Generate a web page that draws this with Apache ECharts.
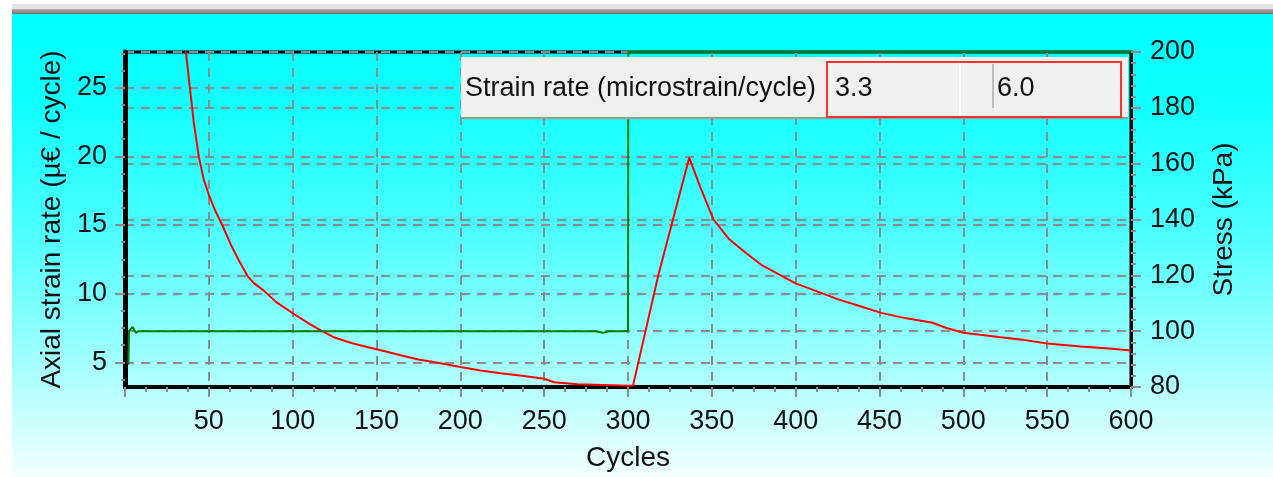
<!DOCTYPE html>
<html>
<head>
<meta charset="utf-8">
<script src="https://cdn.jsdelivr.net/npm/echarts@6/dist/echarts.min.js"></script>
<style>html,body{margin:0;padding:0;background:#fff}#c{width:1273px;height:477px}</style>
</head>
<body>
<div id="c"></div>
<script>
// ---- data ----
const strainCycles = [35.5, 38.5, 41, 44, 47, 50, 54, 58, 63, 68, 73, 77, 83, 90, 101, 110, 117, 125, 135, 145, 155, 165, 175, 185, 200, 212, 224, 238, 250, 256, 270, 285, 300, 303, 318, 336.5, 343, 348, 351, 360, 370, 379.5, 390, 400, 412, 425, 438, 451, 466, 481, 490, 500, 510, 521, 535, 550, 570, 587, 600];
const strainRate   = [28.5, 25.2, 22.5, 20.0, 18.3, 17.2, 16.0, 15.0, 13.6, 12.4, 11.3, 10.75, 10.2, 9.4, 8.5, 7.8, 7.3, 6.8, 6.4, 6.1, 5.8, 5.5, 5.2, 5.0, 4.65, 4.4, 4.2, 4.0, 3.8, 3.55, 3.4, 3.35, 3.3, 3.3, 11.3, 19.9, 17.8, 16.3, 15.4, 14.0, 13.0, 12.1, 11.4, 10.75, 10.2, 9.6, 9.1, 8.6, 8.2, 7.9, 7.5, 7.15, 7.0, 6.85, 6.65, 6.37, 6.15, 6.0, 5.85];
const stressCycles = [2, 2.4, 4.5, 6.5, 8, 28.5, 29, 29.5, 35.5, 36, 36.5, 41.5, 42, 42.5, 57.5, 58, 58.5, 128.5, 129, 129.5, 147.5, 148, 148.5, 254.5, 255, 255.5, 264.5, 265, 265.5, 280.5, 281, 281.5, 285, 285.5, 288.5, 289, 289.5, 300, 300.2, 600];
const stressVals   = [88, 100, 101.5, 99.4, 100, 100, 99.3, 100, 100, 99.3, 100, 100, 99.3, 100, 100, 99.3, 100, 100, 99.4, 100, 100, 99.4, 100, 100, 99.4, 100, 100, 99.4, 100, 100, 99.4, 100, 99.4, 100, 100, 99.4, 100, 100, 200, 200];
const leftTicks = [5, 10, 15, 20, 25];
const leftMinorTicks = [3.75, 6.25, 7.5, 8.75, 11.25, 12.5, 13.75, 16.25, 17.5, 18.75, 21.25, 22.5, 23.75, 26.25, 27.5];
const tableLabel = 'Strain rate (microstrain/cycle)';
const tableValues = ['3.3', '6.0'];

const FONT = 'Liberation Sans, Arial, sans-serif';
const chart = echarts.init(document.getElementById('c'), null, {renderer: 'canvas'});
const gridDash = {color: '#8c8c8c', width: 2, type: [9, 7]};
const tickStyle = {color: '#8c8c8c', width: 2};
const TZ = 200;

const option = {
  animation: false,
  backgroundColor: 'transparent',
  graphic: [
    {type: 'rect', z: -10, silent: true, shape: {x: 0, y: 0, width: 1273, height: 477}, style: {fill: '#ffffff'}},
    {type: 'rect', z: -9, silent: true, shape: {x: 12, y: 4, width: 1261, height: 6}, style: {fill: '#e4e4e4'}},
    {type: 'rect', z: -9, silent: true, shape: {x: 12, y: 9, width: 1261, height: 5},
      style: {fill: new echarts.graphic.LinearGradient(0, 0, 0, 1, [{offset: 0, color: '#b0b0b0'}, {offset: 1, color: '#707070'}])}},
    {type: 'rect', z: -9, silent: true, shape: {x: 12, y: 14, width: 1261, height: 463},
      style: {fill: new echarts.graphic.LinearGradient(0, 0, 0, 1, [
        {offset: 0, color: '#00ffff'}, {offset: 0.2, color: '#12ffff'}, {offset: 0.45, color: '#48ffff'},
        {offset: 0.66, color: '#85ffff'}, {offset: 0.8, color: '#b2ffff'}, {offset: 1, color: '#f4ffff'}])}},
    {type: 'rect', z: TZ, shape: {x: 461, y: 57, width: 667, height: 62}, style: {fill: '#f0f0f0'}},
    {type: 'line', z: TZ + 1, shape: {x1: 461, y1: 118, x2: 1128, y2: 118}, style: {stroke: '#9a9a9a', lineWidth: 2}},
    {type: 'line', z: TZ + 1, shape: {x1: 960, y1: 63, x2: 960, y2: 116}, style: {stroke: '#ffffff', lineWidth: 2}},
    {type: 'line', z: TZ + 1, shape: {x1: 993, y1: 64, x2: 993, y2: 108}, style: {stroke: '#888888', lineWidth: 1}},
    {type: 'rect', z: TZ + 2, shape: {x: 827, y: 62, width: 294, height: 55}, style: {fill: 'none', stroke: '#ff3030', lineWidth: 2}},
    {type: 'text', z: TZ + 3, style: {x: 465, y: 89, text: tableLabel, font: '27px ' + FONT, fill: '#111', textVerticalAlign: 'middle'}},
    {type: 'text', z: TZ + 3, style: {x: 835, y: 89, text: tableValues[0], font: '27px ' + FONT, fill: '#111', textVerticalAlign: 'middle'}},
    {type: 'text', z: TZ + 3, style: {x: 997, y: 89, text: tableValues[1], font: '27px ' + FONT, fill: '#111', textVerticalAlign: 'middle'}}
  ],
  grid: {left: 125, right: 142, top: 52, bottom: 86, show: true, borderColor: '#000', borderWidth: 3, backgroundColor: 'transparent'},
  xAxis: {
    type: 'value', min: 0, max: 600, interval: 50,
    name: 'Cycles', nameLocation: 'middle', nameGap: 57,
    nameTextStyle: {fontFamily: FONT, fontSize: 28, color: '#111'},
    axisLine: {lineStyle: {color: '#000', width: 4}},
    axisTick: {length: 10, lineStyle: tickStyle},
    minorTick: {show: true, splitNumber: 4, length: 5, lineStyle: tickStyle},
    axisLabel: {margin: 21, fontFamily: FONT, fontSize: 27, color: '#111', formatter: v => v === 0 ? '' : String(v)},
    splitLine: {show: true, lineStyle: gridDash}
  },
  yAxis: [
    {
      type: 'value', min: 3.2, max: 27.6, position: 'left',
      name: 'Axial strain rate (µ€ / cycle)', nameLocation: 'middle', nameGap: 58,
      nameTextStyle: {fontFamily: FONT, fontSize: 28, color: '#111'},
      axisLine: {show: true, lineStyle: {color: '#000', width: 5}},
      axisTick: {show: true, length: 10, customValues: leftTicks, lineStyle: tickStyle},
      axisLabel: {margin: 18, fontFamily: FONT, fontSize: 27, color: '#111', customValues: leftTicks},
      splitLine: {show: true, lineStyle: gridDash}
    },
    {
      type: 'value', min: 80, max: 200, interval: 20, position: 'right',
      name: 'Stress (kPa)', nameLocation: 'middle', nameGap: 79,
      nameTextStyle: {fontFamily: FONT, fontSize: 28, color: '#111'},
      axisLine: {show: true, lineStyle: {color: '#000', width: 3}},
      axisTick: {show: true, length: 10, lineStyle: tickStyle},
      minorTick: {show: true, splitNumber: 5, length: 5, lineStyle: tickStyle},
      axisLabel: {margin: 19, fontFamily: FONT, fontSize: 27, color: '#111'},
      splitLine: {show: true, lineStyle: gridDash}
    },
    {
      type: 'value', min: 3.2, max: 27.6, position: 'left',
      axisLine: {show: false}, axisLabel: {show: false}, splitLine: {show: false},
      axisTick: {show: true, length: 4, customValues: leftMinorTicks, lineStyle: tickStyle}
    }
  ],
  series: [
    {
      type: 'line', yAxisIndex: 0, showSymbol: false, symbol: 'none', clip: true,
      lineStyle: {color: '#ff0000', width: 2}, itemStyle: {color: '#ff0000'},
      data: strainCycles.map((c, i) => [c, strainRate[i]])
    },
    {
      type: 'line', yAxisIndex: 1, showSymbol: false, symbol: 'none', clip: true,
      lineStyle: {color: '#008000', width: 2}, itemStyle: {color: '#008000'},
      data: stressCycles.map((c, i) => [c, stressVals[i]])
    }
  ]
};
chart.setOption(option);
</script>
</body>
</html>
